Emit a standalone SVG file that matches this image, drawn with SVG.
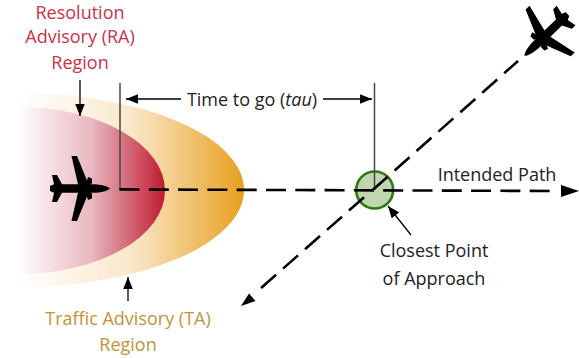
<svg xmlns="http://www.w3.org/2000/svg" width="579" height="358" viewBox="0 0 579 358">
<style>
text{font-family:"Open Sans","Liberation Sans",sans-serif;font-size:18px;fill:#222;text-anchor:middle}
.ra{fill:#c8334a}.ta{fill:#c4923a}
.dash{fill:none;stroke:#000;stroke-width:2.6;stroke-dasharray:20 9.300}
.thin{fill:none;stroke:#000;stroke-width:1.300}
.v{fill:none;stroke:#444;stroke-width:1.500}
</style>
<defs>
<linearGradient id="gO" x1="18" x2="244" y1="0" y2="0" gradientUnits="userSpaceOnUse"><stop offset="0" stop-color="#fff"/><stop offset=".5" stop-color="#fae8cb"/><stop offset="1" stop-color="#e8a020"/></linearGradient>
<linearGradient id="gR" x1="18" x2="165" y1="0" y2="0" gradientUnits="userSpaceOnUse"><stop offset="0" stop-color="#fff"/><stop offset=".5" stop-color="#e9b8c0"/><stop offset="1" stop-color="#bf1a2f"/></linearGradient>
<marker id="a" markerWidth="12" markerHeight="10" refX="10" refY="4" orient="auto" markerUnits="userSpaceOnUse" viewBox="0 0 10 8"><path d="M0 0L10 4L0 8z"/></marker>
<path id="plane" d="M30 0C28 -2 22 -4.300 12 -4.300L10 -4.300L12 -5L12 -10L8 -11.500L7 -8L-3 -32.500L-8.500 -32.500L-2 -4.300L-18 -4.300L-23 -13.500L-28 -13.500L-26 -4.300L-30 -2.500L-30 2.500L-26 4.300L-28 13.500L-23 13.500L-18 4.300L-2 4.300L-8.500 32.500L-3 32.500L7 8L8 11.500L12 10L12 5L10 4.300L12 4.300C22 4.300 28 2 30 0z"/>
</defs>
<g id="ta-region"><path d="M18 93A226 97 0 0 1 18 287z" fill="url(#gO)"/></g>
<g id="ra-region"><path d="M18 107A147 83.500 0 0 1 18 274z" fill="url(#gR)"/></g>
<g id="cpa"><circle cx="374.700" cy="190" r="18.500" fill="#c1d5b3" stroke="#2f7a0e" stroke-width="2.600"/></g>
<g id="connectors">
<path class="v" d="M120 83V190"/><path class="v" d="M374.500 83V190"/>
<path class="dash" d="M119.500 189.400L553 191"/>
<path d="M561 185L579 191L561 197z"/>
<path class="dash" d="M372.700 190L518 61"/>
<path class="dash" d="M364 197.300L261 288"/>
<path d="M241 306L249 293.500L255.500 301z"/>
<path class="thin" d="M181 99H126" marker-end="url(#a)"/>
<path class="thin" d="M323 99H372" marker-end="url(#a)"/>
<path class="thin" d="M80 80V116" marker-end="url(#a)"/>
<path class="thin" d="M128 301V277" marker-end="url(#a)"/>
<path class="thin" d="M411 235L388 206" marker-end="url(#a)"/>
</g>
<g id="plane-left"><use href="#plane" transform="translate(80 188.500)"/></g>
<g id="plane-right"><use href="#plane" transform="translate(546 35) rotate(136)"/></g>
<g id="labels">
<text class="ra" x="80" y="19">Resolution</text>
<text class="ra" x="80" y="43">Advisory (RA)</text>
<text class="ra" x="80" y="69">Region</text>
<text x="252" y="106">Time to go (<tspan font-style="italic">tau</tspan>)</text>
<text x="497" y="181">Intended Path</text>
<text x="434" y="257">Closest Point</text>
<text x="434" y="285">of Approach</text>
<text class="ta" x="128" y="325">Traffic Advisory (TA)</text>
<text class="ta" x="128" y="351">Region</text>
</g>
</svg>
